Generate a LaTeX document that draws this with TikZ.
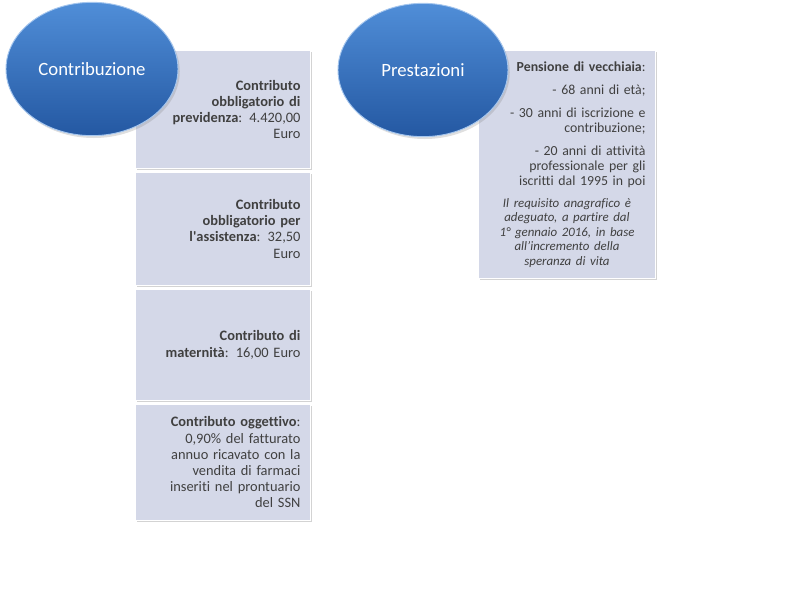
\documentclass[tikz,border=0pt]{standalone}
\usepackage{fontspec}
\setmainfont{Carlito}[Ligatures={TeX,NoCommon}]
\usetikzlibrary{positioning,shapes.geometric,shadows}

\definecolor{boxfill}{RGB}{212,216,232}
\definecolor{boxtext}{RGB}{64,64,64}
\definecolor{ovaltop}{RGB}{80,142,216}
\definecolor{ovalbottom}{RGB}{36,88,162}
\definecolor{ovalrim}{RGB}{165,198,238}

\begin{document}
\begin{tikzpicture}[
    x=0.03cm, y=-0.03cm,
    node distance=0.09cm,
    oval/.style={ellipse, minimum width=5.16cm, minimum height=4cm, top color=ovaltop, bottom color=ovalbottom, draw=ovalrim, line width=0.8pt, text=white, font=\fontsize{16}{19}\selectfont, drop shadow={shadow xshift=1.5pt, shadow yshift=-2pt, opacity=0.25}},
    infobox/.style={rectangle, fill=boxfill, draw=white, line width=0.8pt, text=boxtext, align=right, text width=4.65cm, inner xsep=0.3cm, inner ysep=0.1cm, font=\fontsize{12.3}{13.8}\selectfont, drop shadow={shadow xshift=1.2pt, shadow yshift=-1.6pt, opacity=0.35}},
    bigbox/.style={infobox, text width=4.71cm, font=\fontsize{11.8}{12.75}\selectfont}
]
\useasboundingbox (0,0) rectangle (800,600);

% Contribuzione column: four stacked boxes.
\node[infobox, anchor=north west, minimum height=3.54cm] (previdenza) at (135,50) {\textbf{Contributo}\\\textbf{obbligatorio di}\\\textbf{previdenza}: 4.420,00\\Euro};
\node[infobox, below=of previdenza, minimum height=3.39cm] (assistenza) {\textbf{Contributo}\\\textbf{obbligatorio per}\\\textbf{l\textquotesingle assistenza}: 32,50\\Euro};
\node[infobox, below=of assistenza, minimum height=3.33cm] (maternita) {\textbf{Contributo di}\\\textbf{maternità}: 16,00 Euro};
\node[infobox, below=of maternita, minimum height=3.48cm] (oggettivo) {\textbf{Contributo oggettivo}:\\0,90\% del fatturato\\annuo ricavato con la\\vendita di farmaci\\inseriti nel prontuario\\del SSN};

% Prestazioni box.
\node[bigbox, anchor=north west, minimum height=6.84cm] (pensione) at (478,50) {\textbf{Pensione di vecchiaia}:\\[7pt]
- 68 anni di età;\\[7pt]
- 30 anni di iscrizione e\\contribuzione;\\[7pt]
- 20 anni di attività\\professionale per gli\\iscritti dal 1995 in poi\par
\vspace{6pt}
{\centering\itshape\fontsize{11}{12.4}\selectfont Il requisito anagrafico è\\adeguato, a partire dal\\1° gennaio 2016, in base\\all'incremento della\\speranza di vita\par}};

% Headings drawn on top of the boxes.
\node[oval] (contribuzione) at (92,69) {Contribuzione};
\node[oval, minimum width=5.1cm] (prestazioni) at (423,70) {Prestazioni};

\end{tikzpicture}
\end{document}
